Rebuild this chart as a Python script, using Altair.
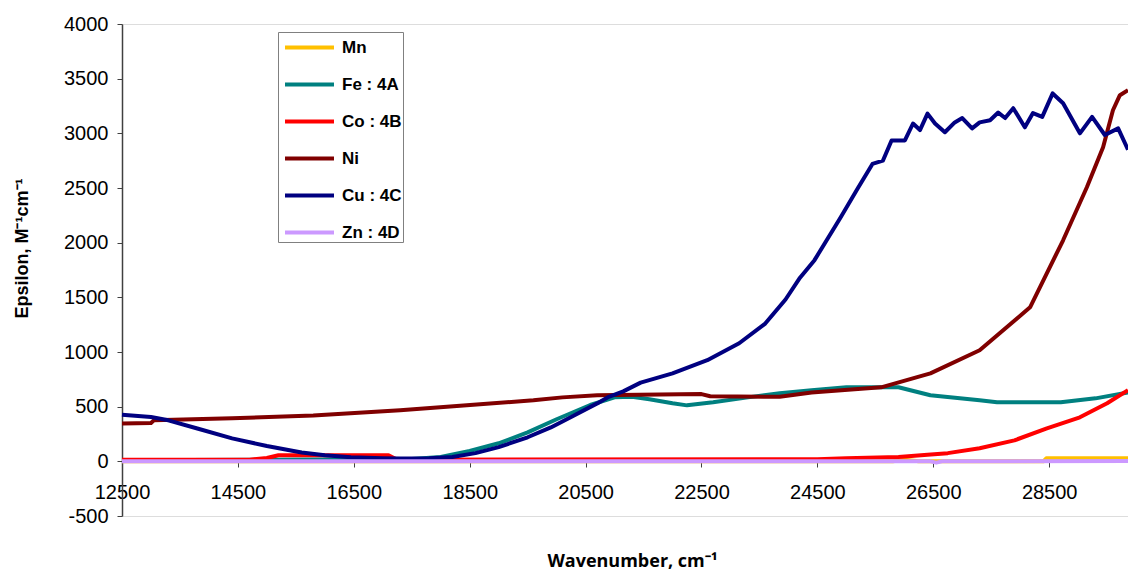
import altair as alt
import pandas as pd

# Molar absorptivity spectra (wavenumber in cm^-1, epsilon in M^-1 cm^-1)
mn_wn = [12500, 25800, 26000, 26250, 28400, 28450, 29860]
mn_eps = [0, 0, 15, 0, 0, 28, 28]

fe_wn = [12500, 15000, 16500, 17500, 18000, 18500, 19000, 19500, 20000, 20580,
         21000, 21300, 21600, 22000, 22250, 22700, 23300, 23850, 24400, 25000,
         25900, 26450, 27300, 27600, 28700, 29300, 29860]
fe_eps = [10, 15, 20, 22, 40, 95, 165, 265, 385, 515,
          585, 590, 567, 531, 512, 540, 585, 622, 650, 677,
          677, 604, 558, 540, 540, 576, 631]

co_wn = [12500, 14700, 15000, 15200, 17100, 17250, 24500, 25000, 25900, 26400,
         26750, 27300, 27900, 28460, 29030, 29500, 29860]
co_eps = [15, 15, 30, 55, 55, 15, 20, 28, 40, 60,
          75, 119, 192, 302, 403, 531, 650]

ni_wn = [12500, 13000, 13050, 14400, 15800, 17300, 18450, 19600, 20100, 20700,
         22500, 22650, 23850, 24400, 25600, 26450, 27300, 28170, 28740, 29150,
         29430, 29600, 29720, 29860]
ni_eps = [345, 350, 375, 393, 420, 467, 512, 558, 585, 604,
          615, 595, 590, 630, 677, 805, 1016, 1409, 2022, 2507,
          2873, 3211, 3349, 3394]

cu_wn = [12500, 13000, 13300, 13800, 14400, 15000, 15600, 16000, 16450, 17000,
         17300, 17800, 18200, 18600, 19000, 19500, 19900, 20300, 20700, 20900,
         21150, 21450, 22000, 22600, 23150, 23600, 23950, 24200, 24450, 24900,
         25200, 25450, 25630, 25780, 26010, 26150, 26270, 26400, 26530, 26700,
         26870, 27000, 27170, 27300, 27480, 27620, 27740, 27880, 28080, 28220,
         28380, 28560, 28740, 29030, 29240, 29460, 29690, 29860]
cu_eps = [425, 405, 375, 300, 210, 140, 80, 55, 37, 28,
          25, 28, 40, 75, 130, 220, 310, 420, 530, 590,
          640, 720, 805, 925, 1080, 1260, 1480, 1680, 1840, 2230,
          2500, 2720, 2750, 2935, 2935, 3090, 3030, 3180, 3090, 3010,
          3100, 3140, 3045, 3100, 3120, 3190, 3140, 3230, 3055, 3185,
          3150, 3365, 3275, 3000, 3150, 2985, 3045, 2850]

zn_wn = [12500, 26450, 26550, 26650, 29860]
zn_eps = [0, 0, -12, 0, 3]

metals = ["Mn", "Fe", "Co", "Ni", "Cu", "Zn"]
colors = ["#FFC000", "#008080", "#FF0000", "#800000", "#000080", "#CC99FF"]

series = {
    "Mn": (mn_wn, mn_eps),
    "Fe": (fe_wn, fe_eps),
    "Co": (co_wn, co_eps),
    "Ni": (ni_wn, ni_eps),
    "Cu": (cu_wn, cu_eps),
    "Zn": (zn_wn, zn_eps),
}

rows = []
for order, name in enumerate(metals):
    wn, eps = series[name]
    for w, e in zip(wn, eps):
        rows.append({"metal": name, "order": order, "wavenumber": w, "epsilon": e})
df = pd.DataFrame(rows)

# complex labels appended to some legend entries
label_expr = ("datum.label == 'Fe' ? 'Fe : 4A     ' : datum.label == 'Co' ? 'Co : 4B     ' : "
              "datum.label == 'Cu' ? 'Cu : 4C     ' : datum.label == 'Zn' ? 'Zn : 4D     ' : datum.label")
# plain hyphen for negative tick labels
num_expr = "datum.value < 0 ? '-' + format(-datum.value, 'd') : format(datum.value, 'd')"

y_ticks = list(range(-500, 4001, 500))
x_ticks = list(range(12500, 29860, 2000))

chart = (
    alt.Chart(df)
    .mark_line(strokeWidth=4, interpolate="linear", strokeJoin="round")
    .encode(
        x=alt.X(
            "wavenumber:Q",
            scale=alt.Scale(domain=[12500, 29860], nice=False, zero=False),
            axis=alt.Axis(
                values=x_ticks,
                title="Wavenumber, cm⁻¹",
                titleFont="Open Sans",
                titleFontSize=18,
                titleFontWeight="bold",
                titleColor="#000000",
                titleX=510,
                titleY=100,
                titleBaseline="middle",
                titleAlign="center",
                offset=-55,
                domain=False,
                ticks=True,
                tickSize=6,
                tickColor="#404040",
                labelFont="Liberation Sans",
                labelFontSize=20,
                labelColor="#000000",
                labelPadding=15,
                labelBaseline="top",
                labelOverlap=False,
                labelFlush=False,
                labelExpr=num_expr,
                grid=False,
            ),
        ),
        y=alt.Y(
            "epsilon:Q",
            scale=alt.Scale(domain=[-500, 4000], nice=False, zero=False),
            axis=alt.Axis(
                values=y_ticks,
                title="Epsilon, M⁻¹cm⁻¹",
                titleFont="Liberation Sans",
                titleFontSize=18,
                titleFontWeight="bold",
                titleColor="#000000",
                titleX=-100,
                titleY=224,
                titleAngle=270,
                titleBaseline="middle",
                titleAlign="center",
                domainColor="#404040",
                domainWidth=1.5,
                tickColor="#404040",
                tickSize=5,
                labelFont="Liberation Sans",
                labelFontSize=20,
                labelColor="#000000",
                labelPadding=9,
                labelExpr=num_expr,
                grid=False,
            ),
        ),
        color=alt.Color(
            "metal:N",
            scale=alt.Scale(domain=metals, range=colors),
            sort=metals,
            legend=alt.Legend(
                title=None,
                orient="none",
                legendX=156,
                legendY=8,
                symbolType="M-2,0L2,0",
                symbolStrokeWidth=4,
                symbolSize=600,
                symbolOffset=16,
                labelFont="Liberation Sans",
                labelFontSize=17,
                labelFontWeight="bold",
                labelColor="#000000",
                labelExpr=label_expr,
                labelOffset=18,
                rowPadding=14,
                padding=1,
                strokeColor="#808080",
                fillColor="#FFFFFF",
                labelLimit=200,
            ),
        ),
        order=alt.Order("order:Q"),
        detail="metal:N",
    )
    .properties(
        width=1006,
        height=492,
        autosize=alt.AutoSizeParams(type="none"),
        padding={"left": 122, "top": 24, "right": 0, "bottom": 57},
    )
    .configure_view(stroke=None)
    .configure(background="#FFFFFF")
)

chart.save("out.html", embed_options={"renderer": "svg", "actions": False})
